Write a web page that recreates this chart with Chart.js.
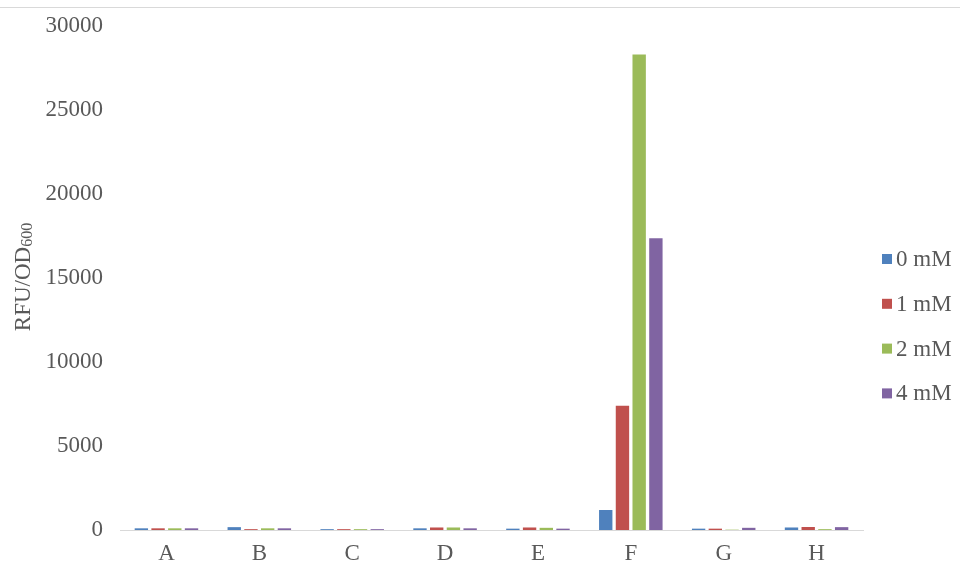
<!DOCTYPE html>
<html>
<head>
<meta charset="utf-8">
<script src="https://cdn.jsdelivr.net/npm/chart.js@4.4.1/dist/chart.umd.min.js"></script>
<style>
  html, body { margin: 0; padding: 0; background: #ffffff; }
  #wrap { width: 960px; height: 563px; position: relative; }
</style>
</head>
<body>
<div id="wrap"><canvas id="chart" width="960" height="563"></canvas></div>
<script>
// Samples and fluorescence per OD600 at each inducer concentration
const categories = ['A', 'B', 'C', 'D', 'E', 'F', 'G', 'H'];
const seriesNames = ['0 mM', '1 mM', '2 mM', '4 mM'];
const values0mM = [100, 170, 50, 100, 80, 1190, 80, 150];
const values1mM = [100, 50, 50, 150, 150, 7400, 80, 180];
const values2mM = [100, 100, 50, 150, 130, 28300, 20, 50];
const values4mM = [100, 100, 50, 100, 80, 17360, 130, 170];
const yTicks = [0, 5000, 10000, 15000, 20000, 25000, 30000];

const colors = ['#4f81bd', '#c0504d', '#9bbb59', '#8064a2'];
const serif = "'Liberation Serif', 'Times New Roman', serif";
const textColor = '#595959';

const allSeries = [values0mM, values1mM, values2mM, values4mM];

// Top rule, rotated axis title with subscript, and side legend
const decorations = {
  id: 'decorations',
  afterDraw(chart) {
    const ctx = chart.ctx;
    ctx.save();
    ctx.strokeStyle = '#d9d9d9';
    ctx.lineWidth = 1;
    ctx.beginPath();
    ctx.moveTo(0, 7.5);
    ctx.lineTo(chart.width, 7.5);
    ctx.stroke();

    // y title "RFU/OD600"
    ctx.fillStyle = textColor;
    ctx.translate(30, 277);
    ctx.rotate(-Math.PI / 2);
    const main = 'RFU/OD';
    ctx.font = '23px ' + serif;
    const w1 = ctx.measureText(main).width;
    ctx.font = '16px ' + serif;
    const w2 = ctx.measureText('600').width;
    const start = -(w1 + w2) / 2;
    ctx.textBaseline = 'alphabetic';
    ctx.textAlign = 'left';
    ctx.font = '23px ' + serif;
    ctx.fillText(main, start, 0);
    ctx.font = '16px ' + serif;
    ctx.fillText('600', start + w1, 2);
    ctx.restore();

    // legend
    ctx.save();
    ctx.font = '23px ' + serif;
    ctx.textBaseline = 'middle';
    ctx.textAlign = 'left';
    chart.data.datasets.forEach((ds, i) => {
      const y = 259 + i * 44.8;
      ctx.fillStyle = ds.backgroundColor;
      ctx.fillRect(882, y - 5, 10, 10);
      ctx.fillStyle = textColor;
      ctx.fillText(ds.label, 896, y + 1);
    });
    ctx.restore();
  }
};

new Chart(document.getElementById('chart'), {
  type: 'bar',
  data: {
    labels: categories,
    datasets: seriesNames.map((name, i) => ({
      label: name,
      data: allSeries[i],
      backgroundColor: colors[i],
      borderWidth: 0,
      categoryPercentage: 0.72,
      barPercentage: 0.8
    }))
  },
  options: {
    responsive: false,
    animation: false,
    layout: { padding: { left: 0, right: 97, top: 26, bottom: 0 } },
    plugins: {
      legend: { display: false },
      tooltip: { enabled: false }
    },
    scales: {
      x: {
        grid: { display: false, drawTicks: false },
        border: { display: true, color: '#d9d9d9', width: 1 },
        ticks: { color: textColor, font: { family: serif, size: 23 }, padding: 10 },
        afterFit(scale) { scale.height = 33; }
      },
      y: {
        min: 0,
        max: 30000,
        afterBuildTicks(scale) { scale.ticks = yTicks.map(v => ({ value: v })); },
        grid: { display: false, drawTicks: false },
        border: { display: false },
        ticks: {
          color: textColor,
          font: { family: serif, size: 23 },
          padding: 17,
          callback: (v) => String(v)
        },
        afterFit(scale) {
          scale.width = 120;
          scale.paddingTop = 0;
          scale.paddingBottom = 0;
        }
      }
    }
  },
  plugins: [decorations]
});
</script>
</body>
</html>
